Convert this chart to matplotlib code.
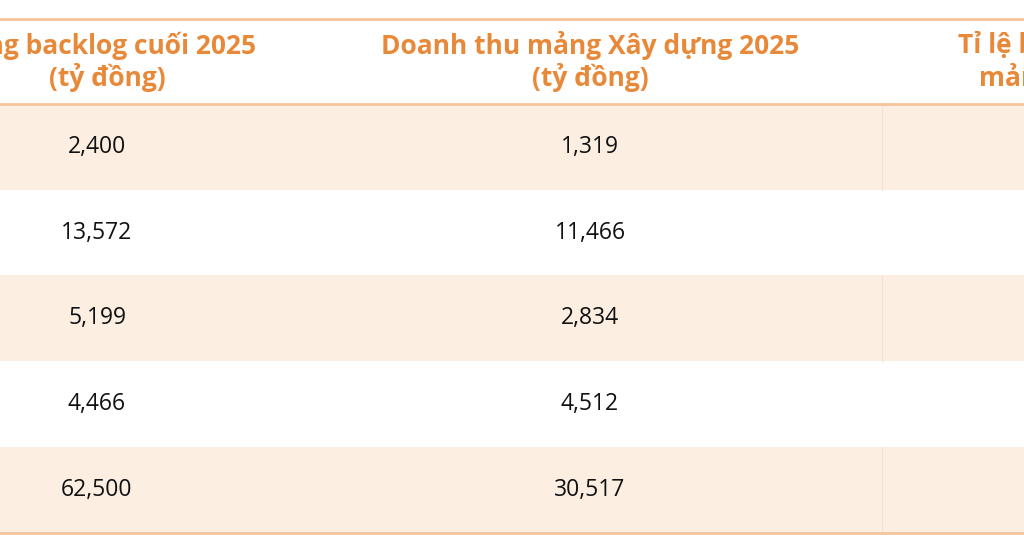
import matplotlib
matplotlib.use("Agg")
import matplotlib.pyplot as plt
from matplotlib.patches import Rectangle

header_line1 = ["Tổng backlog cuối 2025", "Doanh thu mảng Xây dựng 2025", "Tỉ lệ backlog/doanh thu"]
header_line2 = ["(tỷ đồng)", "(tỷ đồng)", "mảng Xây dựng"]
backlog = ["2,400", "13,572", "5,199", "4,466", "62,500"]
revenue = ["1,319", "11,466", "2,834", "4,512", "30,517"]
ratio = ["", "", "", "", ""]

fig = plt.figure(figsize=(10.24, 5.38), dpi=100)
ax = fig.add_axes([0, 0, 1, 1])
ax.set_xlim(0, 1024); ax.set_ylim(538, 0); ax.axis("off")

orange = "#E8893A"; line = "#F5C49C"; shade = "#FCEFE2"
h1_x = [107, 590, 1113]
h2_x = [107, 590, 1082]
val_x = [97, 590, 1082]
top, head_bot, row_h = 19, 104, 85.7

for i in range(len(backlog)):
    y0 = head_bot + i * row_h
    if i % 2 == 0:
        ax.add_patch(Rectangle((0, y0), 1024, row_h, color=shade, lw=0, zorder=0))
        ax.plot([882, 882], [y0, y0 + row_h], color="#F6E0CC", lw=0.8, zorder=1)
    yc = y0 + row_h / 2
    for x, v in zip(val_x, (backlog[i], revenue[i], ratio[i])):
        ax.text(x, yc, v, ha="center", va="center", fontsize=16.5, family="Open Sans", color="#111111")

for y in (top, head_bot, head_bot + row_h * len(backlog)):
    ax.plot([0, 1024], [y, y], color=line, lw=2, zorder=2)

for x1, x2, a, b in zip(h1_x, h2_x, header_line1, header_line2):
    ax.text(x1, 45, a, ha="center", va="center", fontsize=19, fontweight="bold",
            family="Open Sans", color=orange)
    ax.text(x2, 78, b, ha="center", va="center", fontsize=19, fontweight="bold",
            family="Open Sans", color=orange)

fig.savefig("out.png", dpi=100)
